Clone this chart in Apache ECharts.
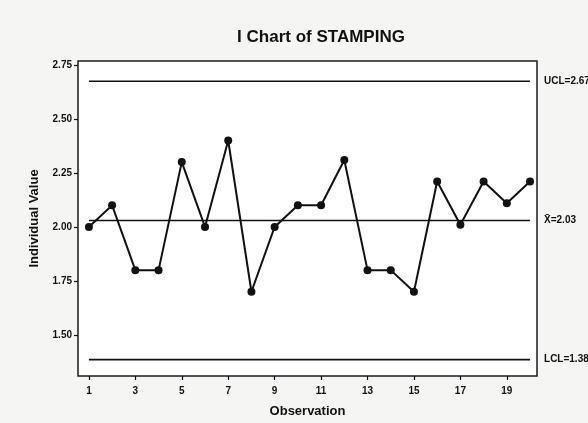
<!DOCTYPE html>
<html>
<head>
<meta charset="utf-8">
<script src="https://cdn.jsdelivr.net/npm/echarts@6/dist/echarts.min.js"></script>
<style>
  html, body { margin: 0; padding: 0; background: #f5f5f3; }
  #chart { width: 588px; height: 423px; }
</style>
</head>
<body>
<div id="chart"></div>
<script>
// Individual measurements of STAMPING, observations 1..20
const observations = [1, 2, 3, 4, 5, 6, 7, 8, 9, 10, 11, 12, 13, 14, 15, 16, 17, 18, 19, 20];
const values = [2.00, 2.10, 1.80, 1.80, 2.30, 2.00, 2.40, 1.70, 2.00, 2.10,
                2.10, 2.31, 1.80, 1.80, 1.70, 2.21, 2.01, 2.21, 2.11, 2.21];
const xTicks = [1, 3, 5, 7, 9, 11, 13, 15, 17, 19];
const yTicks = [1.50, 1.75, 2.00, 2.25, 2.50, 2.75];

// Control limits
const ucl = 2.674;
const center = 2.03;
const lcl = 1.386;

const font = '"Liberation Sans", Arial, sans-serif';
const ink = '#111';

function limitSeries(name, y, text) {
  const first = observations[0];
  const last = observations[observations.length - 1];
  return {
    name: name,
    type: 'line',
    data: [[first, y], [last, y]],
    symbol: 'none',
    silent: true,
    lineStyle: { color: ink, width: 1.6 },
    endLabel: {
      show: true,
      formatter: text,
      color: ink,
      fontFamily: '"Liberation Sans Narrow", "Liberation Sans", sans-serif',
      fontWeight: 'bold',
      fontSize: 10,
      distance: 14
    },
    z: 2
  };
}

const chart = echarts.init(document.getElementById('chart'), null, { renderer: 'canvas' });
chart.setOption({
  backgroundColor: '#f5f5f3',
  animation: false,
  title: {
    text: 'I Chart of STAMPING',
    left: 316,
    textAlign: 'center',
    top: 24,
    textStyle: { fontFamily: font, fontWeight: 'bold', fontSize: 17, color: ink }
  },
  grid: {
    left: 78, right: 51, top: 61, bottom: 46,
    show: true,
    backgroundColor: '#ffffff',
    borderColor: '#1a1a1a',
    borderWidth: 1.5
  },
  xAxis: {
    type: 'value',
    min: 0.53,
    max: 20.3,
    name: 'Observation',
    nameLocation: 'middle',
    nameGap: 29,
    nameTextStyle: { fontFamily: font, fontWeight: 'bold', fontSize: 13, color: ink },
    axisLine: { show: false },
    splitLine: { show: false },
    axisTick: { show: true, customValues: xTicks, length: 4, lineStyle: { color: ink, width: 1.2 } },
    axisLabel: {
      customValues: xTicks,
      fontFamily: font, fontWeight: 'bold', fontSize: 10, color: ink, margin: 10
    }
  },
  yAxis: {
    type: 'value',
    min: 1.31,
    max: 2.768,
    name: 'Individual Value',
    nameLocation: 'middle',
    nameGap: 37,
    nameTextStyle: { fontFamily: font, fontWeight: 'bold', fontSize: 13, color: ink },
    axisLine: { show: false },
    splitLine: { show: false },
    axisTick: { show: true, customValues: yTicks, length: 4, lineStyle: { color: ink, width: 1.2 } },
    axisLabel: {
      customValues: yTicks,
      formatter: v => v.toFixed(2),
      fontFamily: font, fontWeight: 'bold', fontSize: 10, color: ink, margin: 6
    }
  },
  series: [
    limitSeries('UCL', ucl, 'UCL=2.674'),
    limitSeries('Mean', center, 'X\u0304=2.03'),
    limitSeries('LCL', lcl, 'LCL=1.386'),
    {
      name: 'Individual',
      type: 'line',
      data: observations.map((o, i) => [o, values[i]]),
      symbol: 'circle',
      symbolSize: 8,
      itemStyle: { color: ink },
      lineStyle: { color: ink, width: 2 },
      z: 3
    }
  ]
});
</script>
</body>
</html>
